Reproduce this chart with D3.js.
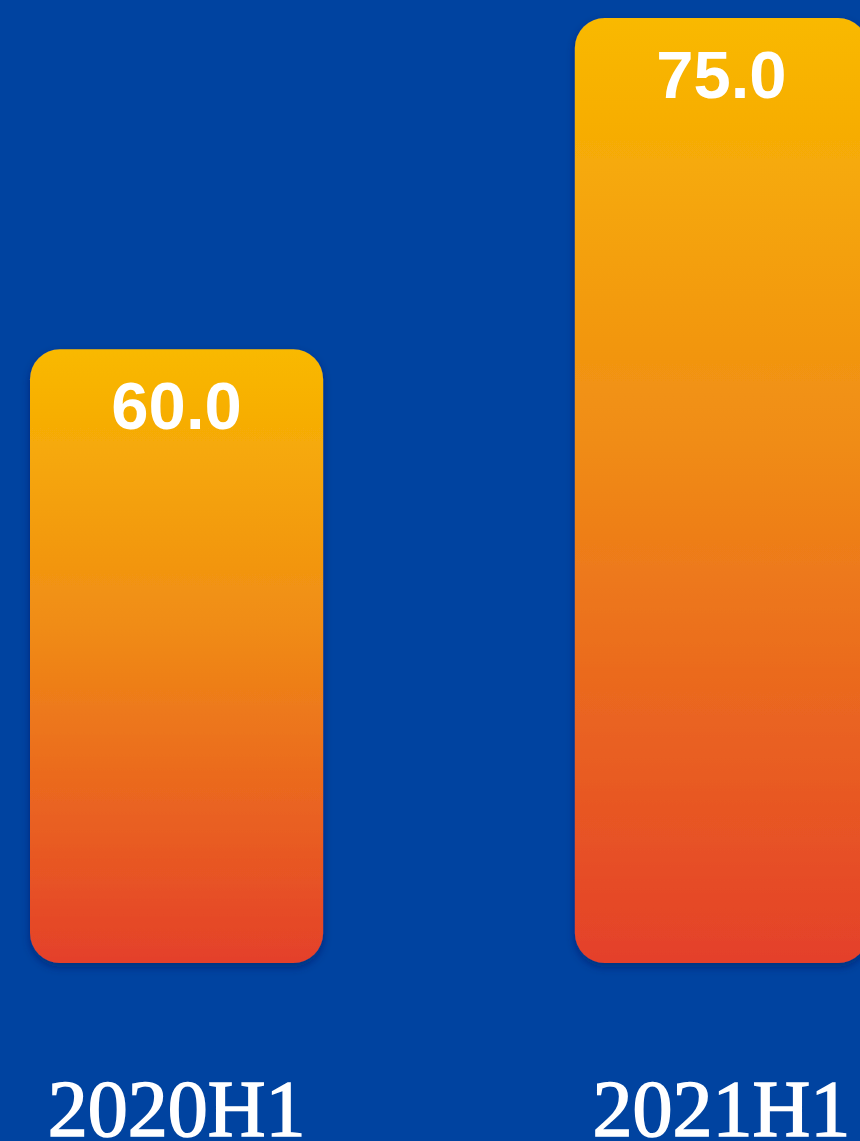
<!DOCTYPE html>
<html><head><meta charset="utf-8">
<script src="https://cdn.jsdelivr.net/npm/d3@7"></script>
<style>html,body{margin:0;padding:0;background:#0043a0;overflow:hidden}</style>
</head><body>
<script>
const categories = ["2020H1", "2021H1"];
const values = [60.0, 75.0];

const W = 860, H = 1141;
const svg = d3.select("body").append("svg").attr("width", W).attr("height", H);
svg.append("rect").attr("width", W).attr("height", H).attr("fill", "#0043a0");

const defs = svg.append("defs");
const grad = defs.append("linearGradient").attr("id", "g").attr("x1", 0).attr("y1", 0).attr("x2", 0).attr("y2", 1);
grad.append("stop").attr("offset", "0%").attr("stop-color", "#f9b900");
grad.append("stop").attr("offset", "45%").attr("stop-color", "#f08c15");
grad.append("stop").attr("offset", "100%").attr("stop-color", "#e4402a");
const f = defs.append("filter").attr("id", "sh").attr("x", "-10%").attr("y", "-10%").attr("width", "120%").attr("height", "120%");
f.append("feDropShadow").attr("dx", 0).attr("dy", 4).attr("stdDeviation", 4).attr("flood-color", "#001a50").attr("flood-opacity", 0.45);

const x = d3.scaleBand().domain(categories).range([30, 868]).paddingInner(0.462).paddingOuter(0);
const y = d3.scaleLinear().domain([32.2, 75]).range([963, 18]);

const g = svg.append("g");
categories.forEach((c, i) => {
  const v = values[i];
  const bx = x(c), bw = x.bandwidth(), by = y(v), bh = y.range()[0] - y(v);
  g.append("rect").attr("x", bx).attr("y", by).attr("width", bw).attr("height", bh)
    .attr("rx", 30).attr("ry", 30).attr("fill", "url(#g)").attr("filter", "url(#sh)");
  g.append("text").attr("x", bx + bw / 2).attr("y", by + 80).attr("text-anchor", "middle")
    .attr("font-family", "Liberation Sans, Arial, sans-serif").attr("font-weight", "bold")
    .attr("font-size", 67).attr("fill", "#fff").text(v.toFixed(1));
  g.append("text").attr("x", bx + bw / 2).attr("y", 1136).attr("text-anchor", "middle")
    .attr("font-family", "Liberation Serif, Times New Roman, serif")
    .attr("font-size", 80).attr("fill", "#fff").attr("stroke", "#fff").attr("stroke-width", 1.6)
    .text(c);
});
</script>
</body></html>
